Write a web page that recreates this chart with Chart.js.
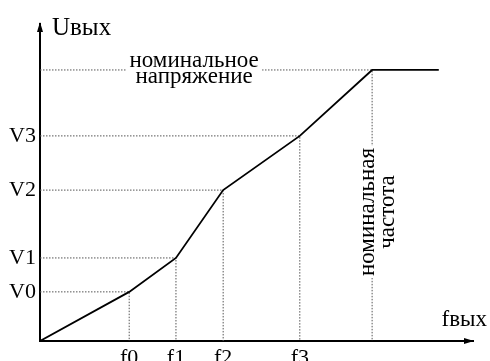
<!DOCTYPE html>
<html>
<head>
<meta charset="utf-8">
<script src="https://cdn.jsdelivr.net/npm/chart.js@4.4.1/dist/chart.umd.min.js"></script>
<style>
  html, body { margin: 0; padding: 0; background: #fff; overflow: hidden; }
  #wrap { position: relative; width: 490px; height: 390px; }
</style>
</head>
<body>
<div id="wrap"><canvas id="vfChart"></canvas></div>
<script>
// V/f characteristic: break points of the output voltage vs output frequency
const freqLabels = ["f0", "f1", "f2", "f3"];
const freqs = [20.6, 31.4, 42.3, 60.0];
const voltLabels = ["V0", "V1", "V2", "V3"];
const volts = [15.5, 26.2, 47.6, 64.7];
const fNominal = 76.7;
const vNominal = 85.5;
const fEnd = 92.1;
const axisMax = 100;

const SERIF = "'Liberation Serif', 'Times New Roman', serif";
Chart.defaults.font.family = SERIF;
Chart.defaults.color = "#000";

// main curve: origin -> break points -> nominal point -> flat part
const curve = [{ x: 0, y: 0 }];
freqs.forEach((f, i) => curve.push({ x: f, y: volts[i] }));
curve.push({ x: fNominal, y: vNominal });
curve.push({ x: fEnd, y: vNominal });

// dotted projections of every break point onto both axes
const guide = (f, v) => ({
  data: [{ x: 0, y: v }, { x: f, y: v }, { x: f, y: 0 }],
  borderColor: "#555",
  borderWidth: 1,
  borderDash: [1.5, 1.5],
  pointRadius: 0,
  order: 2,
});
const guides = freqs.map((f, i) => guide(f, volts[i]));
guides.push(guide(fNominal, vNominal));

const labelsPlugin = {
  id: "vfLabels",
  afterDraw(chart) {
    const { ctx, chartArea, scales } = chart;
    const { left, right, top, bottom } = chartArea;
    const px = scales.x.getPixelForValue(fNominal);
    const py = scales.y.getPixelForValue(vNominal);
    ctx.save();

    // axis arrowheads
    ctx.fillStyle = "#000";
    ctx.beginPath();
    ctx.moveTo(left, top - 2);
    ctx.lineTo(left - 3, top + 8);
    ctx.lineTo(left + 3, top + 8);
    ctx.closePath();
    ctx.fill();
    ctx.beginPath();
    ctx.moveTo(right + 1, bottom);
    ctx.lineTo(right - 9, bottom - 3);
    ctx.lineTo(right - 9, bottom + 3);
    ctx.closePath();
    ctx.fill();

    // axis names
    ctx.textBaseline = "alphabetic";
    ctx.textAlign = "left";
    ctx.font = "25px " + SERIF;
    ctx.fillText("Uвых", left + 12, top + 11);
    ctx.font = "23px " + SERIF;
    ctx.textAlign = "right";
    ctx.fillText("fвых", right + 14, bottom - 15);

    // nominal voltage caption over its dotted line
    const hx = px - 178;
    ctx.fillStyle = "#fff";
    ctx.fillRect(hx - 68, py - 20, 136, 36);
    ctx.fillStyle = "#000";
    ctx.textAlign = "center";
    ctx.textBaseline = "middle";
    ctx.font = "23px " + SERIF;
    ctx.fillText("номинальное", hx, py - 9);
    ctx.fillText("напряжение", hx, py + 7);

    // nominal frequency caption, rotated along its dotted line
    const vy = 212;
    ctx.fillStyle = "#fff";
    ctx.fillRect(px - 16, vy - 66, 42, 132);
    ctx.fillStyle = "#000";
    ctx.translate(px + 6, vy);
    ctx.rotate(-Math.PI / 2);
    ctx.fillText("номинальная", 0, -10);
    ctx.fillText("частота", 0, 10);
    ctx.restore();
  },
};

new Chart(document.getElementById("vfChart"), {
  type: "line",
  data: {
    datasets: [
      {
        data: curve,
        borderColor: "#000",
        borderWidth: 1.8,
        pointRadius: 0,
        tension: 0,
        order: 1,
      },
      ...guides,
    ],
  },
  options: {
    responsive: true,
    maintainAspectRatio: false,
    animation: false,
    layout: { padding: { top: 24, right: 17, left: 0, bottom: 0 } },
    plugins: { legend: { display: false }, tooltip: { enabled: false } },
    scales: {
      x: {
        type: "linear",
        min: 0,
        max: axisMax,
        grid: { display: false, drawTicks: false },
        border: { display: true, color: "#000", width: 2 },
        afterBuildTicks: (s) => { s.ticks = freqs.map((v) => ({ value: v })); },
        afterFit: (s) => { s.height = 49; },
        ticks: {
          autoSkip: false,
          maxRotation: 0,
          padding: 4,
          font: { size: 22 },
          callback: (v, i) => freqLabels[i],
        },
      },
      y: {
        type: "linear",
        min: 0,
        max: axisMax,
        grid: { display: false, drawTicks: false },
        border: { display: true, color: "#000", width: 2 },
        afterBuildTicks: (s) => { s.ticks = volts.map((v) => ({ value: v })); },
        afterFit: (s) => { s.width = 40; },
        ticks: {
          autoSkip: false,
          padding: 4,
          font: { size: 22 },
          callback: (v, i) => voltLabels[i],
        },
      },
    },
  },
  plugins: [labelsPlugin],
});
</script>
</body>
</html>
